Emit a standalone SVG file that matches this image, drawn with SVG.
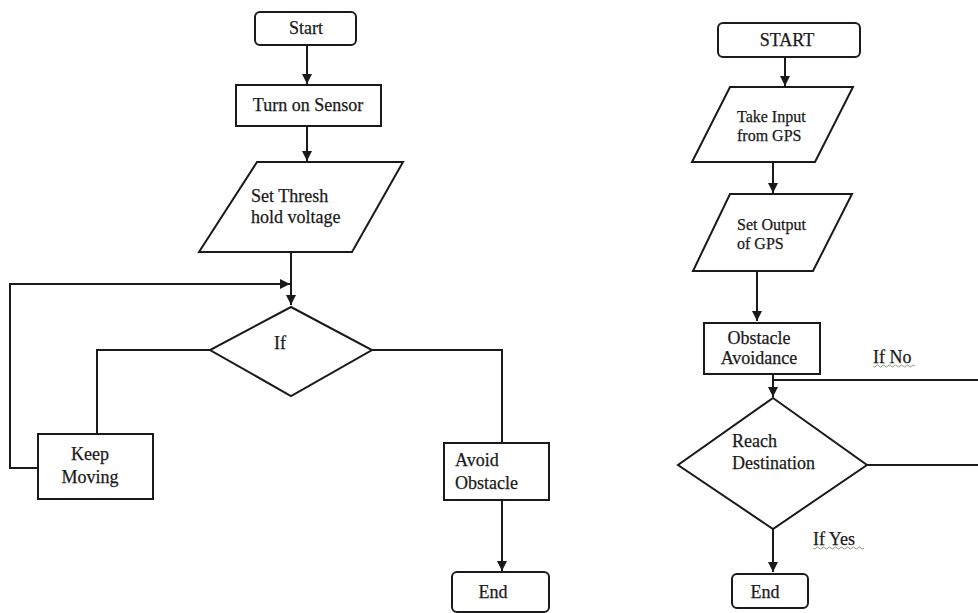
<svg xmlns="http://www.w3.org/2000/svg" width="978" height="613" viewBox="0 0 978 613">
<style>
.s{fill:#fff;stroke:#1a1a1a;stroke-width:2}
.c{fill:none;stroke:#1a1a1a;stroke-width:2}
.t{font-family:"Liberation Serif","Times New Roman",serif;font-size:18px;fill:#1a1a1a;stroke:#1a1a1a;stroke-width:0.25}
.sm{font-size:16px}
.m{text-anchor:middle}
.w{fill:none;stroke:#8a9a7a;stroke-width:1}
</style>
<defs>
<marker id="ah" viewBox="0 0 10 10" refX="10" refY="5" markerWidth="5" markerHeight="5" orient="auto" markerUnits="strokeWidth">
<path d="M0,0 L10,5 L0,10 z" fill="#1a1a1a"/>
</marker>
</defs>
<rect width="978" height="613" fill="#fff"/>

<g id="connectors">
<path class="c" d="M307,45 V84" marker-end="url(#ah)"/>
<path class="c" d="M307,126 V161" marker-end="url(#ah)"/>
<path class="c" d="M291,252 V305" marker-end="url(#ah)"/>
<path class="c" d="M38,468 H10 V284 H290" marker-end="url(#ah)"/>
<path class="c" d="M210,350 H97 V434"/>
<path class="c" d="M372,350 H502 V443"/>
<path class="c" d="M502,500 V571" marker-end="url(#ah)"/>
<path class="c" d="M785,57 V86" marker-end="url(#ah)"/>
<path class="c" d="M773,162 V193" marker-end="url(#ah)"/>
<path class="c" d="M757,271 V321" marker-end="url(#ah)"/>
<path class="c" d="M773,374 V397" marker-end="url(#ah)"/>
<path class="c" d="M773,380 H978"/>
<path class="c" d="M867,465 H978"/>
<path class="c" d="M773,529 V572" marker-end="url(#ah)"/>
</g>

<g id="start1">
<rect class="s" x="255" y="12" width="101" height="33" rx="5"/>
<text class="t m" x="306" y="34">Start</text>
</g>
<g id="sensor">
<rect class="s" x="236" y="85" width="145" height="41"/>
<text class="t m" x="308" y="111">Turn on Sensor</text>
</g>
<g id="threshold">
<polygon class="s" points="257,162 403,162 352,252 199,252"/>
<text class="t" x="251" y="202">Set Thresh</text>
<text class="t" x="251" y="223">hold voltage</text>
</g>
<g id="if">
<polygon class="s" points="291,307 372,350 291,396 210,350"/>
<text class="t m" x="280" y="349">If</text>
</g>
<g id="keep">
<rect class="s" x="38" y="434" width="115" height="65"/>
<text class="t m" x="90" y="460">Keep</text>
<text class="t m" x="90" y="483">Moving</text>
</g>
<g id="avoid">
<rect class="s" x="444" y="443" width="105" height="57"/>
<text class="t" x="455" y="466">Avoid</text>
<text class="t" x="455" y="489">Obstacle</text>
</g>
<g id="end1">
<rect class="s" x="452" y="572" width="97" height="40" rx="5"/>
<text class="t m" x="493" y="598">End</text>
</g>

<g id="start2">
<rect class="s" x="718" y="23" width="142" height="34" rx="5"/>
<text class="t m" x="787" y="46">START</text>
</g>
<g id="gpsin">
<polygon class="s" points="730,87 853,87 815,162 692,162"/>
<text class="t sm" x="737" y="122">Take Input</text>
<text class="t sm" x="737" y="141">from GPS</text>
</g>
<g id="gpsout">
<polygon class="s" points="730,194 852,194 813,271 693,271"/>
<text class="t sm" x="737" y="230">Set Output</text>
<text class="t sm" x="737" y="249">of GPS</text>
</g>
<g id="obstacle">
<rect class="s" x="704" y="323" width="116" height="51"/>
<text class="t m" x="759" y="344">Obstacle</text>
<text class="t m" x="759" y="364">Avoidance</text>
</g>
<g id="reach">
<polygon class="s" points="773,398 867,465 773,529 678,465"/>
<text class="t" x="732" y="447">Reach</text>
<text class="t" x="732" y="469">Destination</text>
</g>
<g id="end2">
<rect class="s" x="732" y="574" width="76" height="34" rx="5"/>
<text class="t m" x="765" y="598">End</text>
</g>

<g id="labels">
<text class="t" x="873" y="363">If No</text>
<path class="w" d="M873,366 q1.5,2 3,0 t3,0 t3,0 t3,0 t3,0 t3,0 t3,0 t3,0 t3,0 t3,0 t3,0 t3,0 t3,0 t3,0"/>
<text class="t" x="813" y="545">If Yes</text>
<path class="w" d="M813,548 q1.5,2 3,0 t3,0 t3,0 t3,0 t3,0 t3,0 t3,0 t3,0 t3,0 t3,0 t3,0 t3,0 t3,0 t3,0 t3,0 t3,0 t3,0"/>
</g>
</svg>
